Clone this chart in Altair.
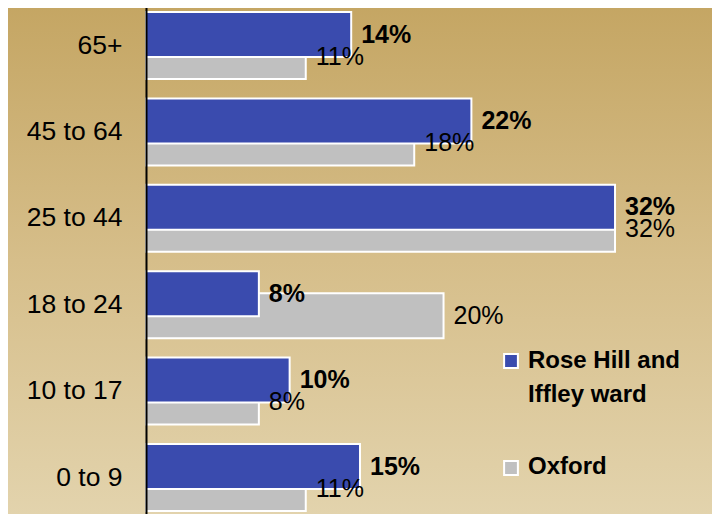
import altair as alt
import pandas as pd

categories = ["65+", "45 to 64", "25 to 44", "18 to 24", "10 to 17", "0 to 9"]
rose_hill = [0.140, 0.222, 0.320, 0.077, 0.098, 0.146]
oxford = [0.109, 0.183, 0.320, 0.203, 0.077, 0.109]
series_names = ["Rose Hill and Iffley ward", "Oxford"]
legend_text = ["Rose Hill and\nIffley ward", "Oxford"]
colors = ["#3A4BAE", "#C0C0C0"]

df_rose = pd.DataFrame({"age": categories, "value": rose_hill})
df_ox = pd.DataFrame({"age": categories, "value": oxford})

W, H = 513, 506
FONT = "Liberation Sans"

yscale = alt.Scale(domain=categories, range=[-5.7, 512.7], paddingInner=0, paddingOuter=0)
xscale = alt.Scale(domain=[0, 0.35])

bg = alt.Chart(pd.DataFrame({"a": [0]})).mark_rect(
    fill=alt.Gradient(
        gradient="linear",
        stops=[alt.GradientStop(color="#C4A562", offset=0),
               alt.GradientStop(color="#D6BE8A", offset=0.5),
               alt.GradientStop(color="#E3D4AE", offset=1)],
        x1=0, x2=0, y1=0, y2=1,
    )
).encode(x=alt.value(-150), x2=alt.value(W + 80), y=alt.value(-10), y2=alt.value(H + 10))

y_axis = alt.Axis(title=None, ticks=False, grid=False, domainColor="black",
                  domainWidth=2, labelFontSize=26.5, labelFont=FONT,
                  labelColor="black", labelPadding=24, zindex=1)
y_enc = alt.Y("age:N", scale=yscale, sort=categories, axis=y_axis)
x_enc = alt.X("value:Q", scale=xscale, axis=None)

ox_bars = alt.Chart(df_ox).mark_bar(size=45, yOffset=11, color=colors[1],
                                    stroke="white", strokeWidth=2).encode(x=x_enc, y=y_enc)
rose_bars = alt.Chart(df_rose).mark_bar(size=45, yOffset=-11, color=colors[0],
                                        stroke="white", strokeWidth=2).encode(x=x_enc, y=y_enc)
ox_text = alt.Chart(df_ox).mark_text(align="left", baseline="middle", dx=10, yOffset=11,
                                     fontSize=25, font=FONT, color="black").encode(
    x=x_enc, y=y_enc, text=alt.Text("value:Q", format=".0%"))
rose_text = alt.Chart(df_rose).mark_text(align="left", baseline="middle", dx=10, yOffset=-11,
                                         fontSize=25, font=FONT, fontWeight="bold",
                                         color="black").encode(
    x=x_enc, y=y_enc, text=alt.Text("value:Q", format=".0%"))

leg_df = pd.DataFrame({"name": series_names, "label": legend_text, "color": colors,
                       "sy": [353, 460], "ty": [353, 459]})
leg_sym = alt.Chart(leg_df).mark_square(size=190, stroke="white", strokeWidth=2, opacity=1).encode(
    x=alt.value(365), y=alt.Y("sy:Q", scale=None),
    fill=alt.Color("color:N", scale=None))
leg_txt = alt.Chart(leg_df).mark_text(align="left", baseline="middle", fontSize=24, font=FONT,
                                      fontWeight="bold", lineBreak="\n", lineHeight=34,
                                      color="black").encode(
    x=alt.value(382), y=alt.Y("ty:Q", scale=None), text="label:N")

chart = alt.layer(bg, ox_bars, rose_bars, ox_text, rose_text, leg_sym, leg_txt).properties(
    width=W, height=H,
    autosize=alt.AutoSizeParams(type="none"),
    padding={"left": 138, "top": 0, "right": 53, "bottom": 0},
).configure_view(stroke=None).configure(background="#E3D4AE")

chart.save("out.html", embed_options={"renderer": "svg", "actions": False})
